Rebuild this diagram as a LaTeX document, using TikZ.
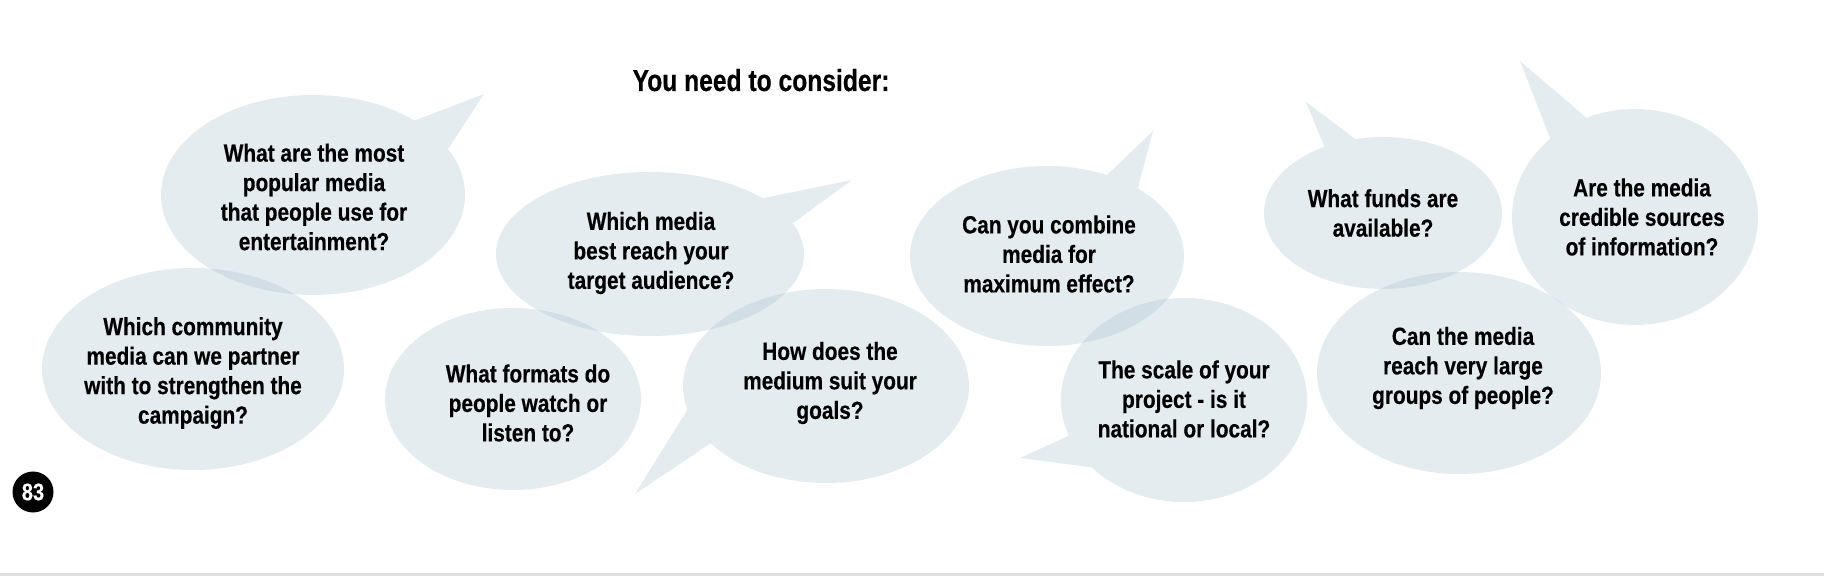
\documentclass[tikz,border=0pt]{standalone}
\usepackage{fontspec}
\usepackage{tikz}
\usetikzlibrary{calc}
\newfontfamily\bubblefont[FakeStretch=0.84,FakeBold=0.4]{Liberation Sans}
\newfontfamily\titlefont[FakeStretch=0.81,FakeBold=0.4]{Liberation Sans}
\definecolor{bubblegrey}{RGB}{150,180,196}
\definecolor{stripgrey}{RGB}{222,222,222}
\tikzset{
 bubble/.style={fill=bubblegrey},
 bubblegroup/.style={transparency group, opacity=0.25},
 question/.style={align=center, inner sep=0pt, font=\bubblefont\bfseries\fontsize{12.4}{14.75}\selectfont},
}

\begin{document}
\begin{tikzpicture}[x=0.5pt,y=-0.5pt]
 \useasboundingbox (0,0) rectangle (1824,576);
 \fill[stripgrey] (0,573) rectangle (1824,576);
 % bubble centres and tail tips
 \coordinate (A) at (313,195);
 \coordinate (B) at (193,369);
 \coordinate (C) at (650,254);
 \coordinate (D) at (513,399);
 \coordinate (E) at (826,386);
 \coordinate (F) at (1047,256);
 \coordinate (G) at (1184,400);
 \coordinate (H) at (1383,213);
 \coordinate (I) at (1635,217);
 \coordinate (J) at (1459,373);
 \coordinate (tA) at (484,94);
 \coordinate (tC) at (852,180);
 \coordinate (tE) at (635,494);
 \coordinate (tF) at (1153,131);
 \coordinate (tG) at (1020,458);
 \coordinate (tH) at (1306,102);
 \coordinate (tI) at (1520,61);
 \begin{scope}[bubblegroup]
  \fill[bubble] (A) ellipse [x radius=152, y radius=100];
  \fill[bubble] (tA)--($(tA)!1.2!(416,120)$)--($(tA)!1.2!(448,149)$)--cycle;
 \end{scope}
 \begin{scope}[bubblegroup]
  \fill[bubble] (B) ellipse [x radius=151, y radius=101];
 \end{scope}
 \begin{scope}[bubblegroup]
  \fill[bubble] (C) ellipse [x radius=154, y radius=82];
  \fill[bubble] (tC)--($(tC)!1.2!(769,197)$)--($(tC)!1.2!(796,221)$)--cycle;
 \end{scope}
 \begin{scope}[bubblegroup]
  \fill[bubble] (D) ellipse [x radius=128, y radius=91];
 \end{scope}
 \begin{scope}[bubblegroup]
  \fill[bubble] (E) ellipse [x radius=143, y radius=97];
  \fill[bubble] (tE)--($(tE)!1.2!(689,407)$)--($(tE)!1.2!(714,441)$)--cycle;
 \end{scope}
 \begin{scope}[bubblegroup]
  \fill[bubble] (F) ellipse [x radius=137, y radius=90];
  \fill[bubble] (tF)--($(tF)!1.2!(1107,175)$)--($(tF)!1.2!(1138,188)$)--cycle;
 \end{scope}
 \begin{scope}[bubblegroup]
  \fill[bubble] (G) ellipse [x radius=123, y radius=102];
  \fill[bubble] (tG)--($(tG)!1.2!(1068,436)$)--($(tG)!1.2!(1089,467)$)--cycle;
 \end{scope}
 \begin{scope}[bubblegroup]
  \fill[bubble] (H) ellipse [x radius=119, y radius=76];
  \fill[bubble] (tH)--($(tH)!1.2!(1324,146)$)--($(tH)!1.2!(1354,138)$)--cycle;
 \end{scope}
 \begin{scope}[bubblegroup]
  \fill[bubble] (I) ellipse [x radius=123, y radius=108];
  \fill[bubble] (tI)--($(tI)!1.2!(1552,143)$)--($(tI)!1.2!(1588,119)$)--cycle;
 \end{scope}
 \begin{scope}[bubblegroup]
  \fill[bubble] (J) ellipse [x radius=142, y radius=101];
 \end{scope}
 % questions
 \node[anchor=base, font=\titlefont\bfseries\fontsize{15.2}{18}\selectfont] (title) at (761,91) {You need to consider:};
 \node[question] (qA) at (314,197) {What are the most\\popular media\\that people use for\\entertainment?};
 \node[question] (qB) at (193,373) {Which community\\media can we partner\\with to strengthen the\\campaign?};
 \node[question] (qC) at (651,253) {Which media\\best reach your\\target audience?};
 \node[question] (qD) at (528,403) {What formats do\\people watch or\\listen to?};
 \node[question] (qE) at (830,383) {How does the\\medium suit your\\goals?};
 \node[question] (qF) at (1049,254) {Can you combine\\media for\\maximum effect?};
 \node[question] (qG) at (1184,399) {The scale of your\\project - is it\\national or local?};
 \node[question] (qH) at (1383,213) {What funds are\\available?};
 \node[question] (qI) at (1642,217) {Are the media\\credible sources\\of information?};
 \node[question] (qJ) at (1463,368) {Can the media\\reach very large\\groups of people?};
 \node[circle, fill=black, text=white, minimum size=20.5pt, inner sep=0pt, font=\bubblefont\bfseries\fontsize{12}{14}\selectfont] (page) at (33,492) {83};
\end{tikzpicture}
\end{document}
